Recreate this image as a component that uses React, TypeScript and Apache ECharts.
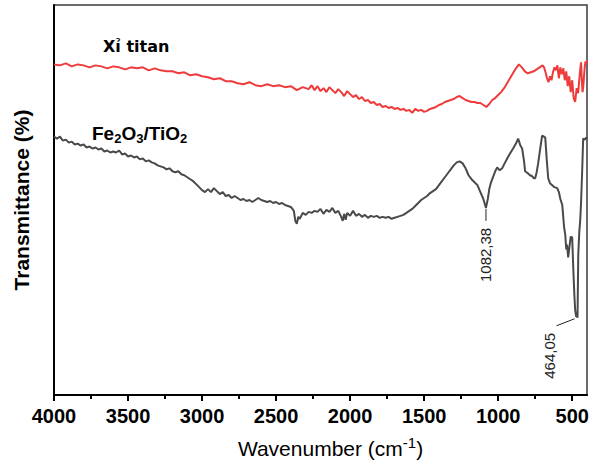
import React, { useEffect, useRef } from "react";
import * as echarts from "echarts";

// Wavenumber (cm-1) ticks
const majorTicks = [500, 1000, 1500, 2000, 2500, 3000, 3500, 4000];
const minorTicks = [750, 1250, 1750, 2250, 2750, 3250, 3750];

// Series 1: Xỉ titan (red)
const titanWavenumber = [
  4000, 3960, 3920, 3880, 3840, 3800, 3760, 3720, 3680, 3640, 3600, 3560, 3520, 3480, 3440, 3400,
  3360, 3320, 3280, 3240, 3200, 3160, 3120, 3080, 3040, 3000, 2960, 2920, 2880, 2840, 2800, 2760,
  2720, 2680, 2640, 2600, 2560, 2520, 2480, 2440, 2400, 2360, 2320, 2280, 2260, 2240, 2220, 2200,
  2180, 2160, 2140, 2120, 2100, 2080, 2060, 2040, 2020, 2000, 1980, 1960, 1940, 1920, 1900, 1880,
  1860, 1840, 1820, 1800, 1780, 1760, 1740, 1720, 1700, 1680, 1660, 1640, 1620, 1600, 1580, 1560,
  1540, 1520, 1500, 1480, 1460, 1440, 1420, 1400, 1380, 1360, 1340, 1320, 1300, 1280, 1260, 1240,
  1220, 1200, 1180, 1160, 1140, 1120, 1100, 1080, 1060, 1040, 1020, 1000, 980, 960, 940, 920,
  900, 880, 860, 840, 820, 800, 780, 760, 740, 720, 700, 690, 680, 670, 660, 650,
  640, 630, 620, 610, 600, 590, 580, 570, 560, 550, 540, 530, 520, 510, 500, 490,
  480, 470, 460, 450, 445, 440, 435, 430, 425, 420, 415, 410, 405, 400,
];
const titanValue = [
  334, 333, 335, 332, 334, 333, 331, 333, 332, 330, 332, 331, 329, 331, 330, 331,
  328, 330, 328, 327, 327, 325, 326, 323, 324, 322, 321, 319, 320, 317, 317, 315,
  314, 316, 313, 312, 314, 312, 313, 311, 312, 308, 311, 309, 313, 308, 312, 307,
  310, 306, 311, 308, 305, 309, 306, 302, 307, 304, 301, 303, 299, 301, 297, 298,
  295, 296, 293, 294, 291, 292, 290, 291, 289, 290, 288, 289, 287, 288, 285, 289,
  287, 288, 286, 287, 289, 290, 291, 293, 294, 296, 297, 298, 299, 301, 302, 300,
  298, 297, 296, 296, 295, 295, 293, 291, 294, 298, 300, 303, 306, 310, 315, 320,
  325, 330, 334, 331, 327, 325, 326, 327, 329, 331, 333, 331, 326, 320, 316, 322,
  318, 326, 331, 328, 333, 320, 331, 324, 330, 318, 327, 312, 322, 306, 318, 300,
  296, 310, 305, 322, 330, 336, 318, 306, 312, 322, 332, 337, 335, 338,
];

// Series 2: Fe2O3/TiO2 (dark grey)
const compositeWavenumber = [
  4000, 3980, 3960, 3940, 3920, 3900, 3880, 3860, 3840, 3820, 3800, 3780, 3760, 3740, 3720, 3700,
  3680, 3660, 3640, 3620, 3600, 3580, 3560, 3540, 3520, 3500, 3480, 3460, 3440, 3420, 3400, 3380,
  3360, 3340, 3320, 3300, 3280, 3260, 3240, 3220, 3200, 3180, 3160, 3140, 3120, 3100, 3080, 3060,
  3040, 3020, 3000, 2980, 2960, 2940, 2920, 2900, 2880, 2860, 2840, 2820, 2800, 2780, 2760, 2740,
  2720, 2700, 2680, 2660, 2640, 2620, 2600, 2580, 2560, 2540, 2520, 2500, 2480, 2460, 2440, 2420,
  2400, 2380, 2370, 2360, 2350, 2340, 2320, 2300, 2280, 2260, 2240, 2220, 2200, 2180, 2160, 2140,
  2120, 2100, 2080, 2060, 2050, 2040, 2030, 2020, 2000, 1980, 1960, 1940, 1920, 1900, 1880, 1860,
  1840, 1820, 1800, 1780, 1760, 1740, 1720, 1700, 1680, 1660, 1640, 1620, 1600, 1580, 1560, 1540,
  1520, 1500, 1480, 1460, 1440, 1420, 1400, 1380, 1360, 1340, 1320, 1300, 1280, 1260, 1240, 1220,
  1200, 1180, 1160, 1140, 1120, 1100, 1082.38, 1070, 1060, 1050, 1040, 1020, 1007, 990, 973, 960,
  939, 920, 899, 880, 865, 850, 838, 825, 818, 800, 785, 770, 760, 750, 740, 730,
  715, 703, 690, 682, 672, 662, 650, 635, 620, 601, 590, 580, 567, 555, 547, 540,
  535, 527, 520, 510, 500, 493, 485, 480, 473, 466, 464.05, 459, 452, 446, 440, 432,
  426, 415, 405, 400,
];
const compositeValue = [
  261, 259, 261, 257, 258, 255, 256, 253, 254, 252, 253, 250, 251, 249, 250, 248,
  249, 246, 247, 245, 246, 245, 247, 243, 244, 241, 242, 240, 241, 238, 239, 236,
  237, 235, 234, 232, 231, 230, 228, 229, 226, 225, 226, 223, 222, 220, 218, 216,
  213, 210, 207, 205, 208, 205, 209, 206, 203, 205, 201, 202, 199, 201, 199, 197,
  198, 196, 197, 195, 197, 199, 197, 196, 195, 196, 194, 195, 193, 194, 192, 191,
  190, 186, 176, 173, 180, 178, 184, 182, 185, 184, 186, 185, 188, 183, 187, 185,
  189, 184, 186, 180, 176, 183, 177, 184, 181, 186, 181, 183, 180, 182, 179, 181,
  180, 181, 179, 180, 179, 180, 178, 179, 180, 181, 182, 184, 186, 188, 191, 194,
  197, 199, 201, 204, 206, 208, 212, 216, 220, 224, 228, 232, 235, 236, 234, 229,
  222, 218, 215, 212, 205, 198, 189, 198, 208, 214, 218, 226, 230, 227, 229, 233,
  239, 244, 249, 254, 259, 252, 249, 236, 226, 224, 222, 221, 219, 219, 225, 234,
  250, 262, 261, 260, 238, 219, 214, 212, 210, 209, 205, 198, 192, 170, 162, 147,
  152, 139, 148, 160, 159, 129, 100, 86, 79, 80, 78, 142, 165, 176, 195, 229,
  259, 258, 260, 259,
];

const FONT = "'Liberation Sans', Arial, Helvetica, sans-serif";

export default function App() {
  const ref = useRef<HTMLDivElement>(null);

  useEffect(() => {
    if (!ref.current) return;
    const chart = echarts.init(ref.current, null, { renderer: "svg" });

    const titanData = titanWavenumber.map((w, i) => [w, titanValue[i]]);
    const compositeData = compositeWavenumber.map((w, i) => [w, compositeValue[i]]);

    chart.setOption({
      animation: false,
      backgroundColor: "#ffffff",
      grid: {
        left: 54,
        right: 9,
        top: 5,
        bottom: 67,
        show: true,
        borderColor: "#3a3a3a",
        borderWidth: 1.5,
        backgroundColor: "transparent",
      },
      xAxis: [
        {
          type: "value",
          min: 400,
          max: 4000,
          inverse: true,
          position: "bottom",
          axisLine: { show: true, lineStyle: { color: "#000", width: 2 } },
          axisTick: {
            show: true,
            customValues: majorTicks,
            length: 6,
            lineStyle: { color: "#000", width: 2 },
          },
          axisLabel: {
            customValues: majorTicks,
            formatter: (v: number) => "{b|" + String(v) + "}",
            color: "#000",
            margin: 11,
            rich: {
              b: { fontSize: 20, fontWeight: "bold", color: "#000", fontFamily: FONT },
            },
          },
          splitLine: { show: false },
          name: "Wavenumber (cm{sup|-1})",
          nameLocation: "middle",
          nameGap: 40,
          nameTextStyle: {
            fontSize: 21,
            color: "#000",
            fontFamily: FONT,
            lineHeight: 26,
            padding: [0, 0, 0, 20],
            rich: {
              sup: { fontSize: 15, lineHeight: 14, verticalAlign: "top", color: "#000", fontFamily: FONT },
            },
          },
        },
        {
          type: "value",
          min: 400,
          max: 4000,
          inverse: true,
          position: "bottom",
          axisLine: { show: false },
          axisTick: {
            show: true,
            customValues: minorTicks,
            length: 4,
            lineStyle: { color: "#000", width: 2 },
          },
          axisLabel: { show: false },
          splitLine: { show: false },
        },
      ],
      yAxis: {
        type: "value",
        min: 0,
        max: 394,
        axisLine: { show: true, lineStyle: { color: "#000", width: 2 } },
        axisTick: { show: false },
        axisLabel: { show: false },
        splitLine: { show: false },
        name: "Transmittance (%)",
        nameLocation: "middle",
        nameGap: 22,
        nameTextStyle: { fontSize: 21, fontWeight: "bold", color: "#000", fontFamily: FONT },
      },
      series: [
        {
          name: "Xỉ titan",
          type: "line",
          xAxisIndex: 0,
          data: titanData,
          showSymbol: false,
          symbol: "none",
          lineStyle: { color: "#ee3b3b", width: 2 },
          silent: true,
        },
        {
          name: "Fe2O3/TiO2",
          type: "line",
          xAxisIndex: 0,
          data: compositeData,
          showSymbol: false,
          symbol: "none",
          lineStyle: { color: "#4a4a4a", width: 2 },
          silent: true,
        },
      ],
    });

    const p1 = chart.convertToPixel({ xAxisIndex: 0, yAxisIndex: 0 }, [1082.38, 189]) as number[];
    const p2 = chart.convertToPixel({ xAxisIndex: 0, yAxisIndex: 0 }, [464.05, 78]) as number[];

    chart.setOption({
      graphic: [
        {
          type: "text",
          left: 103,
          top: 38,
          style: {
            text: "Xỉ titan",
            fontSize: 16,
            fontWeight: "bold",
            fontFamily: "'DejaVu Sans', " + FONT,
            fill: "#000",
          },
        },
        {
          type: "text",
          x: 92,
          y: 133,
          style: {
            text: "Fe{sub|2}O{sub|3}/TiO{sub|2}",
            fontSize: 19,
            fontWeight: "bold",
            fontFamily: FONT,
            fill: "#000",
            lineHeight: 24,
            verticalAlign: "middle",
            rich: {
              sub: {
                fontSize: 13,
                fontWeight: "bold",
                fontFamily: FONT,
                lineHeight: 10,
                verticalAlign: "bottom",
                fill: "#000",
              },
            },
          },
        },
        {
          type: "line",
          shape: { x1: p1[0], y1: p1[1] + 1, x2: p1[0], y2: p1[1] + 13 },
          style: { stroke: "#222", lineWidth: 1 },
        },
        {
          type: "text",
          x: p1[0],
          y: p1[1] + 47,
          rotation: Math.PI / 2,
          style: {
            text: "1082,38",
            fontSize: 15,
            fontFamily: FONT,
            fill: "#222",
            align: "center",
            verticalAlign: "middle",
          },
        },
        {
          type: "line",
          shape: { x1: p2[0] - 3, y1: p2[1] + 1, x2: p2[0] - 21, y2: p2[1] + 8 },
          style: { stroke: "#222", lineWidth: 1 },
        },
        {
          type: "text",
          x: p2[0] - 28,
          y: p2[1] + 38,
          rotation: Math.PI / 2,
          style: {
            text: "464,05",
            fontSize: 15,
            fontFamily: FONT,
            fill: "#222",
            align: "center",
            verticalAlign: "middle",
          },
        },
      ],
    });

    return () => {
      chart.dispose();
    };
  }, []);

  return (
    <div
      ref={ref}
      style={{ position: "fixed", left: 0, top: 0, width: 596, height: 466, background: "#fff" }}
    />
  );
}
